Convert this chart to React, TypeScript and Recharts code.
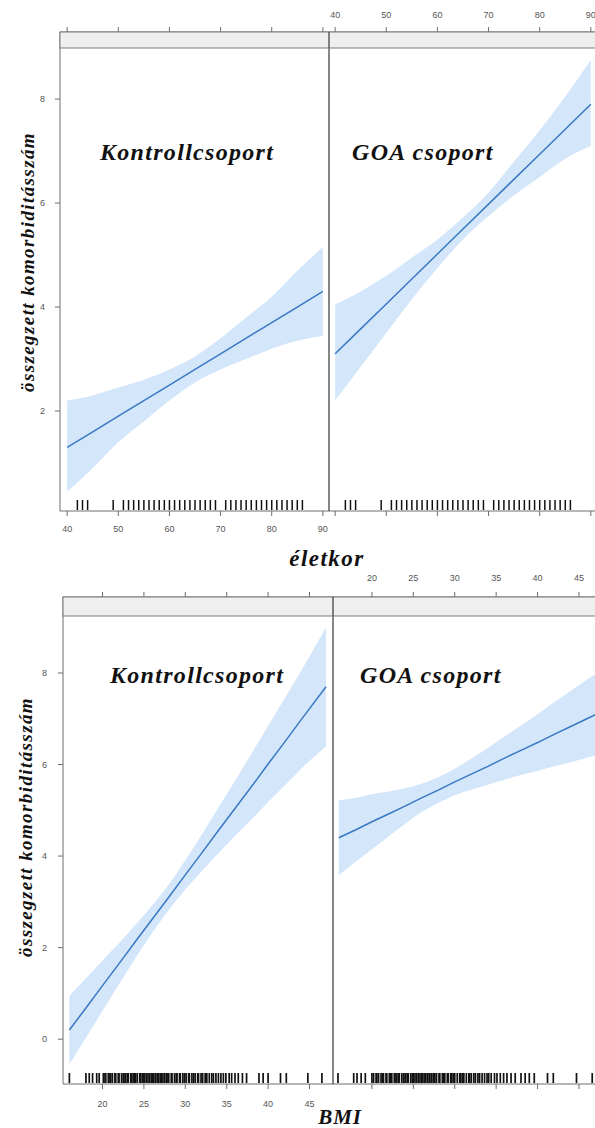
import { ComposedChart, Area, Line, Scatter, XAxis, YAxis } from "recharts";

// fitted effect + confidence band
const ageGrid = [40, 45, 50, 55, 60, 65, 70, 75, 80, 85, 90];
const kontrollAgeFit = [1.3, 1.6, 1.9, 2.2, 2.5, 2.8, 3.1, 3.4, 3.7, 4.0, 4.3];
const kontrollAgeLo = [0.45, 0.9, 1.4, 1.8, 2.2, 2.55, 2.8, 3.0, 3.2, 3.35, 3.45];
const kontrollAgeHi = [2.2, 2.3, 2.45, 2.6, 2.8, 3.05, 3.4, 3.8, 4.2, 4.7, 5.15];
const goaAgeFit = [3.1, 3.58, 4.06, 4.54, 5.02, 5.5, 5.98, 6.46, 6.94, 7.42, 7.9];
const goaAgeLo = [2.2, 2.85, 3.5, 4.15, 4.75, 5.3, 5.75, 6.15, 6.5, 6.85, 7.1];
const goaAgeHi = [4.05, 4.3, 4.6, 4.95, 5.3, 5.72, 6.2, 6.8, 7.4, 8.05, 8.75];

const bmiGrid = [16, 18, 20, 22, 24, 26, 28, 30, 32, 34, 36, 38, 40, 42, 44, 47];
const kontrollBmiFit = [0.2, 0.68, 1.17, 1.65, 2.14, 2.62, 3.1, 3.59, 4.07, 4.56, 5.04, 5.52, 6.01, 6.49, 6.98, 7.7];
const kontrollBmiLo = [-0.55, 0.03, 0.62, 1.2, 1.78, 2.32, 2.82, 3.27, 3.67, 4.06, 4.44, 4.8, 5.18, 5.54, 5.91, 6.4];
const kontrollBmiHi = [0.95, 1.33, 1.72, 2.1, 2.5, 2.92, 3.38, 3.91, 4.47, 5.06, 5.64, 6.24, 6.84, 7.44, 8.05, 9.0];
const goaBmiFit = [4.4, 4.57, 4.75, 4.92, 5.09, 5.27, 5.44, 5.62, 5.79, 5.96, 6.14, 6.31, 6.48, 6.66, 6.83, 7.09];
const goaBmiLo = [3.58, 3.87, 4.15, 4.43, 4.7, 4.96, 5.16, 5.33, 5.45, 5.56, 5.67, 5.77, 5.86, 5.96, 6.05, 6.2];
const goaBmiHi = [5.22, 5.27, 5.35, 5.41, 5.48, 5.58, 5.72, 5.91, 6.13, 6.36, 6.61, 6.85, 7.1, 7.36, 7.61, 7.98];

// rug values
const kontrollAges = [42, 43, 44, 49, 51, 52, 53, 54, 55, 56, 57, 58, 59, 60, 61, 62, 63, 64, 65, 66, 67, 68, 69, 71, 72, 73, 74, 75, 76, 77, 78, 79, 80, 81, 82, 83, 84, 85, 86];
const goaAges = [42, 43, 44, 49, 51, 52, 53, 54, 55, 56, 57, 58, 59, 60, 61, 62, 63, 64, 65, 66, 67, 68, 69, 71, 72, 73, 74, 75, 76, 77, 78, 79, 80, 81, 82, 83, 84, 85, 86];
const kontrollBmis = [16.0, 18.0, 18.4, 18.8, 19.3, 19.6, 20.1, 20.3, 20.4, 20.7, 20.9, 21.0, 21.2, 21.5, 21.6, 21.9, 22.0, 22.3, 22.5, 22.6, 22.8, 23.0, 23.1, 23.4, 23.5, 23.7, 23.9, 24.0, 24.2, 24.5, 24.6, 24.8, 25.0, 25.1, 25.3, 25.5, 25.7, 25.9, 26.0, 26.2, 26.4, 26.6, 26.8, 27.0, 27.1, 27.3, 27.5, 27.7, 27.9, 28.0, 28.3, 28.4, 28.7, 28.9, 29.0, 29.3, 29.4, 29.7, 29.9, 30.1, 30.4, 30.5, 30.8, 31.0, 31.2, 31.5, 31.6, 31.9, 32.1, 32.4, 32.6, 32.9, 33.2, 33.4, 33.7, 34.0, 34.3, 34.6, 34.9, 35.3, 35.6, 36.0, 36.4, 36.9, 37.4, 38.9, 39.4, 40.0, 41.5, 42.2, 44.8, 46.5];
const goaBmis = [15.9, 17.8, 18.2, 18.7, 19.2, 20.0, 20.2, 20.5, 20.6, 20.8, 21.1, 21.3, 21.4, 21.7, 21.8, 22.1, 22.2, 22.4, 22.7, 22.9, 23.0, 23.2, 23.3, 23.6, 23.8, 24.0, 24.1, 24.3, 24.4, 24.7, 24.9, 25.0, 25.2, 25.4, 25.6, 25.8, 26.0, 26.1, 26.3, 26.5, 26.7, 26.9, 27.0, 27.2, 27.4, 27.6, 27.8, 28.1, 28.2, 28.5, 28.6, 28.8, 29.1, 29.2, 29.5, 29.6, 29.8, 30.0, 30.3, 30.6, 30.7, 30.9, 31.1, 31.4, 31.7, 31.8, 32.0, 32.3, 32.5, 32.8, 33.0, 33.3, 33.6, 33.9, 34.1, 34.4, 34.8, 35.1, 35.5, 35.9, 36.3, 36.8, 37.3, 38.0, 38.5, 39.0, 39.6, 41.2, 41.9, 44.7, 46.6];

const ageTicks = [40, 50, 60, 70, 80, 90];
const bmiTicks = [20, 25, 30, 35, 40, 45];
const topYTicks = [2, 4, 6, 8];
const bottomYTicks = [0, 2, 4, 6, 8];

const BAND = "#d3e6fa";
const FIT = "#3a78c3";
const AXIS = "#6e6e6e";
const TICK = { fill: "#555", fontSize: 9, fontFamily: "Liberation Sans, Arial" };
const SERIF = "Liberation Serif, Times New Roman, serif";

function rows(grid: number[], fit: number[], lo: number[], hi: number[]) {
  return grid.map((x, i) => ({ x, fit: fit[i], band: [lo[i], hi[i]] }));
}

function makeRugTick(w: number) {
  return (props: any) => (
    <line x1={props.cx} x2={props.cx} y1={props.cy - 1} y2={props.cy - 11} stroke="#111" strokeWidth={w} />
  );
}

type PanelProps = {
  left: number;
  top: number;
  width: number;
  height: number;
  yW: number;
  topH: number;
  bottomH: number;
  xDomain: number[];
  yDomain: number[];
  xTicks: number[];
  yTicks: number[];
  data: { x: number; fit: number; band: number[] }[];
  rug: number[];
  rugW: number;
  labelTop: boolean;
  labelBottom: boolean;
  labelY: boolean;
  topMargin: number;
  bottomMargin: number;
  yMargin: number;
};

function Panel(p: PanelProps) {
  const rugData = p.rug.map((x) => ({ x, y: p.yDomain[0] }));
  const blank = () => "";
  return (
    <div style={{ position: "absolute", left: p.left, top: p.top }}>
      <ComposedChart width={p.width} height={p.height} data={p.data} margin={{ top: 0, right: 0, bottom: 0, left: 0 }}>
        <XAxis
          xAxisId="b"
          orientation="bottom"
          type="number"
          dataKey="x"
          domain={p.xDomain}
          ticks={p.xTicks}
          interval={0}
          allowDataOverflow
          height={p.bottomH}
          tickSize={5}
          tickMargin={p.bottomMargin}
          tick={TICK}
          tickFormatter={p.labelBottom ? undefined : blank}
          axisLine={{ stroke: AXIS }}
          tickLine={{ stroke: AXIS }}
        />
        <XAxis
          xAxisId="t"
          orientation="top"
          type="number"
          dataKey="x"
          domain={p.xDomain}
          ticks={p.xTicks}
          interval={0}
          allowDataOverflow
          height={p.topH}
          tickSize={5}
          tickMargin={p.topMargin}
          tick={TICK}
          tickFormatter={p.labelTop ? undefined : blank}
          axisLine={{ stroke: AXIS }}
          tickLine={{ stroke: AXIS }}
        />
        <YAxis
          yAxisId="l"
          type="number"
          domain={p.yDomain}
          ticks={p.yTicks}
          interval={0}
          allowDataOverflow
          width={p.yW}
          tickSize={p.labelY ? 5 : 0}
          tickMargin={p.yMargin}
          tick={p.labelY ? TICK : false}
          axisLine={{ stroke: p.labelY ? AXIS : "#444", strokeWidth: p.labelY ? 1 : 1.3 }}
          tickLine={{ stroke: AXIS }}
        />
        <Area
          xAxisId="b"
          yAxisId="l"
          type="monotone"
          dataKey="band"
          fill={BAND}
          fillOpacity={1}
          stroke="none"
          isAnimationActive={false}
        />
        <Line
          xAxisId="t"
          yAxisId="l"
          type="linear"
          dataKey="fit"
          stroke={FIT}
          strokeWidth={1.5}
          dot={false}
          isAnimationActive={false}
        />
        <Scatter xAxisId="b" yAxisId="l" data={rugData} dataKey="y" shape={makeRugTick(p.rugW)} isAnimationActive={false} />
      </ComposedChart>
    </div>
  );
}

export default function App() {
  const topY = [0.077, 9.29];
  const botY = [-0.98, 9.66];
  return (
    <div style={{ position: "absolute", left: 0, top: 0, width: 595, height: 1128, overflow: "hidden", background: "#fff" }}>
      <Panel
        left={0} top={0} width={329} height={541} yW={60} topH={32} bottomH={30}
        xDomain={[38.6, 91.2]} yDomain={topY} xTicks={ageTicks} yTicks={topYTicks}
        data={rows(ageGrid, kontrollAgeFit, kontrollAgeLo, kontrollAgeHi)} rug={kontrollAges} rugW={1.5}
        labelTop={false} labelBottom={true} labelY={true} topMargin={9} bottomMargin={10} yMargin={10}
      />
      <Panel
        left={319} top={0} width={279} height={541} yW={10} topH={32} bottomH={30}
        xDomain={[38.8, 91.4]} yDomain={topY} xTicks={ageTicks} yTicks={topYTicks}
        data={rows(ageGrid, goaAgeFit, goaAgeLo, goaAgeHi)} rug={goaAges} rugW={1.5}
        labelTop={true} labelBottom={false} labelY={false} topMargin={9} bottomMargin={10} yMargin={10}
      />
      <Panel
        left={0} top={560} width={333} height={554} yW={63} topH={37} bottomH={30}
        xDomain={[15.23, 47.84]} yDomain={botY} xTicks={bmiTicks} yTicks={bottomYTicks}
        data={rows(bmiGrid, kontrollBmiFit, kontrollBmiLo, kontrollBmiHi)} rug={kontrollBmis} rugW={1.7}
        labelTop={false} labelBottom={true} labelY={true} topMargin={11} bottomMargin={12} yMargin={11}
      />
      <Panel
        left={323} top={560} width={280} height={554} yW={10} topH={37} bottomH={30}
        xDomain={[15.3, 47.9]} yDomain={botY} xTicks={bmiTicks} yTicks={bottomYTicks}
        data={rows(bmiGrid, goaBmiFit, goaBmiLo, goaBmiHi)} rug={goaBmis} rugW={1.7}
        labelTop={true} labelBottom={false} labelY={false} topMargin={11} bottomMargin={12} yMargin={11}
      />
      <svg width={595} height={1128} style={{ position: "absolute", left: 0, top: 0, pointerEvents: "none" }}>
        <rect x={60} y={32} width={560} height={16} fill="#efefef" stroke="#7a7a7a" />
        <line x1={329} x2={329} y1={32} y2={48} stroke="#444" strokeWidth={1.3} />
        <rect x={63} y={597} width={560} height={19} fill="#efefef" stroke="#7a7a7a" />
        <line x1={333} x2={333} y1={597} y2={616} stroke="#444" strokeWidth={1.3} />
        <g fontFamily={SERIF} fontWeight="bold" fontStyle="italic" fill="#111">
          <text x={100} y={160} fontSize={24} letterSpacing={1.3}>Kontrollcsoport</text>
          <text x={352} y={160} fontSize={24} letterSpacing={1.3}>GOA csoport</text>
          <text x={110} y={683} fontSize={24} letterSpacing={1.3}>Kontrollcsoport</text>
          <text x={360} y={683} fontSize={24} letterSpacing={1.3}>GOA csoport</text>
          <text x={327} y={566} fontSize={23} letterSpacing={1.5} textAnchor="middle">életkor</text>
          <text x={340} y={1124} fontSize={21} letterSpacing={0.8} textAnchor="middle">BMI</text>
          <text transform="translate(34,262) rotate(-90)" fontSize={19} letterSpacing={1.4} textAnchor="middle">összegzett komorbiditásszám</text>
          <text transform="translate(32,827) rotate(-90)" fontSize={19} letterSpacing={1.4} textAnchor="middle">összegzett komorbiditásszám</text>
        </g>
      </svg>
    </div>
  );
}
